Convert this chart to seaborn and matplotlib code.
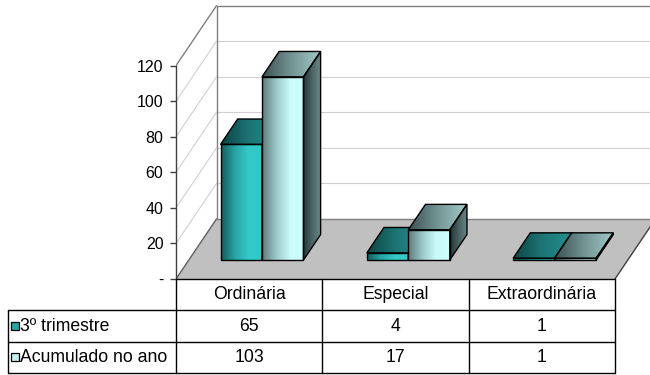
import numpy as np
import pandas as pd
import matplotlib
matplotlib.use("Agg")
import matplotlib.pyplot as plt
import seaborn as sns
from matplotlib.patches import Polygon
from matplotlib.colors import LinearSegmentedColormap

sns.set_style("white")
plt.rcParams['font.family'] = ['Liberation Sans', 'DejaVu Sans']
plt.rcParams['text.color'] = 'black'
plt.rcParams['ytick.color'] = 'black'

# Data
categories = ["Ordinária", "Especial", "Extraordinária"]
series_names = ["3º trimestre", "Acumulado no ano"]
trimestre = [65, 4, 1]
acumulado = [103, 17, 1]
yticks = [0, 20, 40, 60, 80, 100, 120]
ytick_labels = ["-", "20", "40", "60", "80", "100", "120"]

df = pd.DataFrame({
    "categoria": categories * 2,
    "serie": [series_names[0]] * 3 + [series_names[1]] * 3,
    "valor": trimestre + acumulado,
})

# fake 3D: depth 1 shifts by (KX, KY) in data units
KX = 40.5 / 146.33
KY = 33.75
D0, D1 = 0.317, 0.74

fig = plt.figure(figsize=(6.5, 3.75), dpi=100)
ax = fig.add_axes([176 / 650, 96 / 375, 474 / 650, 279 / 375])
XMAX = -0.5 + 474 / 146.33
YMAX = 279 / 1.778

sns.barplot(data=df, x="categoria", y="valor", hue="serie", width=0.567,
            dodge=True, legend=False, ax=ax)
bars = sorted(list(ax.patches), key=lambda p: p.get_x())
hue_bars = [bars[0::2], bars[1::2]]

wall = "#808080"
grid = "#d0d0d0"

# floor
floor = Polygon([(-0.5, 0), (2.5, 0), (2.5 + KX, KY), (-0.5 + KX, KY)],
                closed=True, facecolor="#c0c0c0", edgecolor="none", zorder=1)
ax.add_patch(floor)
ax.plot([-0.5, -0.5 + KX], [0, KY], color="#606060", lw=1, zorder=1.5)
ax.plot([-0.5 + KX, XMAX + 0.2], [KY, KY], color=wall, lw=1, zorder=1.5)
ax.plot([2.5, 2.5 + KX], [0, KY], color="#404040", lw=1, zorder=1.5)

# walls and gridlines
for v in yticks[1:-1]:
    ax.plot([-0.5, -0.5 + KX], [v, v + KY], color=grid, lw=0.8, zorder=0.5)
    ax.plot([-0.5 + KX, XMAX + 0.2], [v + KY, v + KY], color=grid, lw=0.8, zorder=0.5)
ax.plot([-0.5, -0.5 + KX], [120, 120 + KY], color=wall, lw=1, zorder=0.6)
ax.plot([-0.5 + KX, XMAX + 0.2], [120 + KY, 120 + KY], color=wall, lw=1, zorder=0.6)
ax.plot([-0.5 + KX, -0.5 + KX], [KY, 120 + KY], color=wall, lw=1, zorder=0.6)

grad = np.linspace(0, 1, 256).reshape(1, -1)
cmaps = [
    {
        "front": LinearSegmentedColormap.from_list("f1", ["#145c5c", "#28a4a4", "#34caca", "#33c8c8"]),
        "top": LinearSegmentedColormap.from_list("t1", ["#0f4444", "#1d7676", "#258f8f"]),
        "side": LinearSegmentedColormap.from_list("s1", ["#0e3a3a", "#1a6060"]),
    },
    {
        "front": LinearSegmentedColormap.from_list("f2", ["#5e7a7a", "#9ac6c6", "#cbfafa", "#ccffff"]),
        "top": LinearSegmentedColormap.from_list("t2", ["#3c5050", "#739494", "#a2caca"]),
        "side": LinearSegmentedColormap.from_list("s2", ["#263434", "#4a6363", "#6a8888"]),
    },
]


def gradient_face(verts, cmap, z):
    poly = Polygon(verts, closed=True, facecolor="none", edgecolor="black",
                   lw=1, zorder=z + 0.1, joinstyle="miter")
    ax.add_patch(poly)
    xs = [p[0] for p in verts]
    ys = [p[1] for p in verts]
    im = ax.imshow(grad, extent=[min(xs), max(xs), min(ys), max(ys)],
                   aspect="auto", cmap=cmap, zorder=z, interpolation="bilinear")
    im.set_clip_path(poly)


for s, group in enumerate(hue_bars):
    z = 3 + s
    for rect in group:
        x0, w, h = rect.get_x(), rect.get_width(), rect.get_height()
        fx = x0 + KX * D0
        fy = KY * D0
        rect.set_visible(False)
        front = [(fx, fy), (fx + w, fy), (fx + w, fy + h), (fx, fy + h)]
        top = [(fx, fy + h), (fx + w, fy + h),
               (x0 + w + KX * D1, h + KY * D1), (x0 + KX * D1, h + KY * D1)]
        side = [(fx + w, fy), (x0 + w + KX * D1, KY * D1),
                (x0 + w + KX * D1, h + KY * D1), (fx + w, fy + h)]
        gradient_face(front, cmaps[s]["front"], z)
        gradient_face(top, cmaps[s]["top"], z)
        gradient_face(side, cmaps[s]["side"], z)

ax.set_xlim(-0.5, XMAX)
ax.set_ylim(0, YMAX)
ax.set_xlabel("")
ax.set_ylabel("")
ax.set_xticks([])
ax.set_yticks(yticks)
ax.set_yticklabels(ytick_labels)
ax.tick_params(axis="y", direction="out", length=4, width=1, color="#404040",
               labelsize=11.5, labelcolor="black", pad=5, left=True)
for side_name in ["top", "right", "bottom"]:
    ax.spines[side_name].set_visible(False)
ax.spines["left"].set_bounds(0, 120)
ax.spines["left"].set_color("#404040")
ax.spines["left"].set_linewidth(1)
ax.patch.set_alpha(0)

# data table
tax = fig.add_axes([8 / 650, 2 / 375, 642 / 650, 94 / 375])
XL = -0.5 - 168 / 146.33
tax.set_xlim(XL, XMAX)
tax.set_ylim(3, 0)
tax.axis("off")
lc = "black"
for xv in [-0.5, 0.5, 1.5, 2.5]:
    tax.plot([xv, xv], [0, 3], color=lc, lw=1, clip_on=False)
tax.plot([XL, XL], [1, 3], color=lc, lw=1, clip_on=False)
tax.plot([-0.5, 2.5], [0, 0], color=lc, lw=1, clip_on=False)
for yv in [1, 2, 3]:
    tax.plot([XL, 2.5], [yv, yv], color=lc, lw=1, clip_on=False)

fs = 12.7
for i, cat in enumerate(categories):
    tax.text(i, 0.5, cat, ha="center", va="center", fontsize=fs)
    tax.text(i, 1.52, str(trimestre[i]), ha="center", va="center", fontsize=fs)
    tax.text(i, 2.52, str(acumulado[i]), ha="center", va="center", fontsize=fs)

sq_colors = ["#2aa6a6", "#c6efef"]
for r, name in enumerate(series_names):
    tax.plot([XL + 0.046], [1.5 + r], marker="s", ms=5.6, mfc=sq_colors[r],
             mec="black", mew=0.9, clip_on=False)
    tax.text(XL + 0.084, 1.52 + r, name, ha="left", va="center", fontsize=fs)

fig.savefig("out.png", dpi=100)
